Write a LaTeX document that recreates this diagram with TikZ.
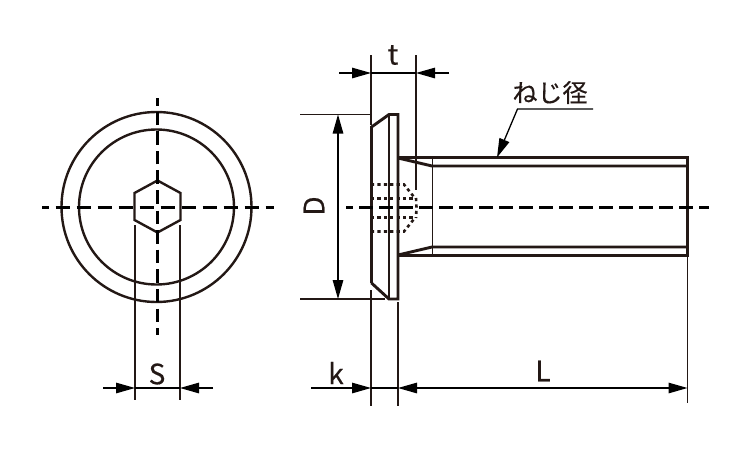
\documentclass[tikz,border=0pt]{standalone}
\usepackage{fontspec}
\setmainfont[FakeBold=0.4]{Noto Sans CJK JP}
\usetikzlibrary{arrows.meta}
\definecolor{ink}{HTML}{231815}
\tikzset{
  outline/.style={draw=ink,line width=2.4pt,line join=miter},
  heavyline/.style={draw=ink,line width=2.9pt,line join=miter},
  thinline/.style={draw=ink,line width=1.3pt},
  centerline/.style={draw=black,line width=2.9pt},
  hidden/.style={draw=ink,line width=2.6pt,dash pattern=on 3.2pt off 3.2pt},
  dimline/.style={draw=black,line width=1.3pt},
  tip/.style={-{Triangle[length=19pt,width=10.5pt]}},
  tips/.style={{Triangle[length=19pt,width=10.5pt]}-{Triangle[length=19pt,width=10.5pt]}},
  lbl/.style={text=ink,inner sep=0pt,font=\fontsize{28}{28}\selectfont},
}
\begin{document}
\begin{tikzpicture}[x=1pt,y=-1pt]
\useasboundingbox (0,0) rectangle (750,450);
% named points
\coordinate (cc) at (156.5,207);
\coordinate (sL) at (135,388);
\coordinate (sR) at (180,388);
\coordinate (sLo) at (103,388);
\coordinate (sRo) at (213,388);
\coordinate (kL) at (371,388);
\coordinate (kR) at (398,388);
\coordinate (kLo) at (311,388);
\coordinate (Lend) at (687.5,388);
\coordinate (tL) at (371,73);
\coordinate (tR) at (416,73);
\coordinate (tLo) at (339,73);
\coordinate (tRo) at (449,73);
\coordinate (dT) at (338,114.5);
\coordinate (dB) at (338,299);
\coordinate (leadA) at (593,109);
\coordinate (leadB) at (517.5,109);
\coordinate (leadC) at (497,157.5);
% front view
\draw[outline] (cc) circle (95);
\draw[outline] (cc) circle (77.5);
\draw[outline] (157.5,180.5) -- (180.5,193) -- (180.5,220) -- (157.5,232.5) -- (134.5,220) -- (134.5,193) -- cycle;
\draw[centerline,dash pattern=on 14.5pt off 6.5pt,dash phase=7.5pt] (42,207.5) -- (274,207.5);
\draw[centerline,dash pattern=on 13.5pt off 6.1pt] (157.4,203.5) -- (157.4,98);
\draw[centerline,dash pattern=on 13.5pt off 6.1pt] (157.4,210.5) -- (157.4,335);
% front view extension lines
\draw[thinline] (135,225) -- (135,400);
\draw[thinline] (180,225) -- (180,400);
% side view
\draw[heavyline] (371.5,283) -- (371.5,127) -- (389,114.5) -- (398,114.5) -- (398,299) -- (389,299) -- (371.5,283);
\draw[heavyline] (389,114.5) -- (389,299);
\draw[outline] (398,157.5) -- (687.5,157.5) -- (687.5,255.5) -- (398,255.5);
\draw[heavyline] (398,158) -- (432,166) -- (687.5,166);
\draw[heavyline] (398,255) -- (432,247) -- (687.5,247);
\draw[thinline,line width=1.6pt] (432.5,157.5) -- (432.5,255.5);
% socket (hidden lines)
\draw[hidden] (371,184.5) -- (404,184.5) -- (414,197);
\draw[hidden] (371,198.5) -- (415,198.5);
\draw[hidden] (371,217.5) -- (415,217.5);
\draw[hidden] (371,231.5) -- (404,231.5) -- (414,219);
\draw[hidden] (416,198) -- (416.5,207.5) -- (416,218);
% centre line
\draw[centerline,dash pattern=on 14pt off 6pt,dash phase=7pt] (346,207.5) -- (709,207.5);
% extension lines
\draw[thinline] (371,55) -- (371,125);
\draw[thinline] (416,55) -- (416,190);
\draw[thinline] (300,114.5) -- (372,114.5);
\draw[thinline] (300,299) -- (385,299);
\draw[thinline] (371,290) -- (371,406);
\draw[thinline] (398,302) -- (398,406);
\draw[thinline] (687.5,255) -- (687.5,403);
% dimensions
\draw[dimline,tip] (sLo) -- (sL);
\draw[dimline,tip] (sRo) -- (sR);
\draw[dimline] (sL) -- (sR);
\draw[dimline,tip] (kLo) -- (kL);
\draw[dimline] (kL) -- (kR);
\draw[dimline,tips] (kR) -- (Lend);
\draw[dimline,tip] (tLo) -- (tL);
\draw[dimline,tip] (tRo) -- (tR);
\draw[dimline] (tL) -- (tR);
\draw[dimline,tips] (dT) -- (dB);
\draw[dimline,tip] (leadA) -- (leadB) -- (leadC);
% labels
\node[lbl] (labelS) at (157,374) {S};
\node[lbl] (labelK) at (336,373) {k};
\node[lbl] (labelL) at (543,371) {L};
\node[lbl] (labelT) at (393,55) {t};
\node[lbl,rotate=90] (labelD) at (314,206) {D};
\node[lbl,font=\fontsize{25}{25}\selectfont] (labelNeji) at (550,92.5) {ねじ径};
\end{tikzpicture}
\end{document}
